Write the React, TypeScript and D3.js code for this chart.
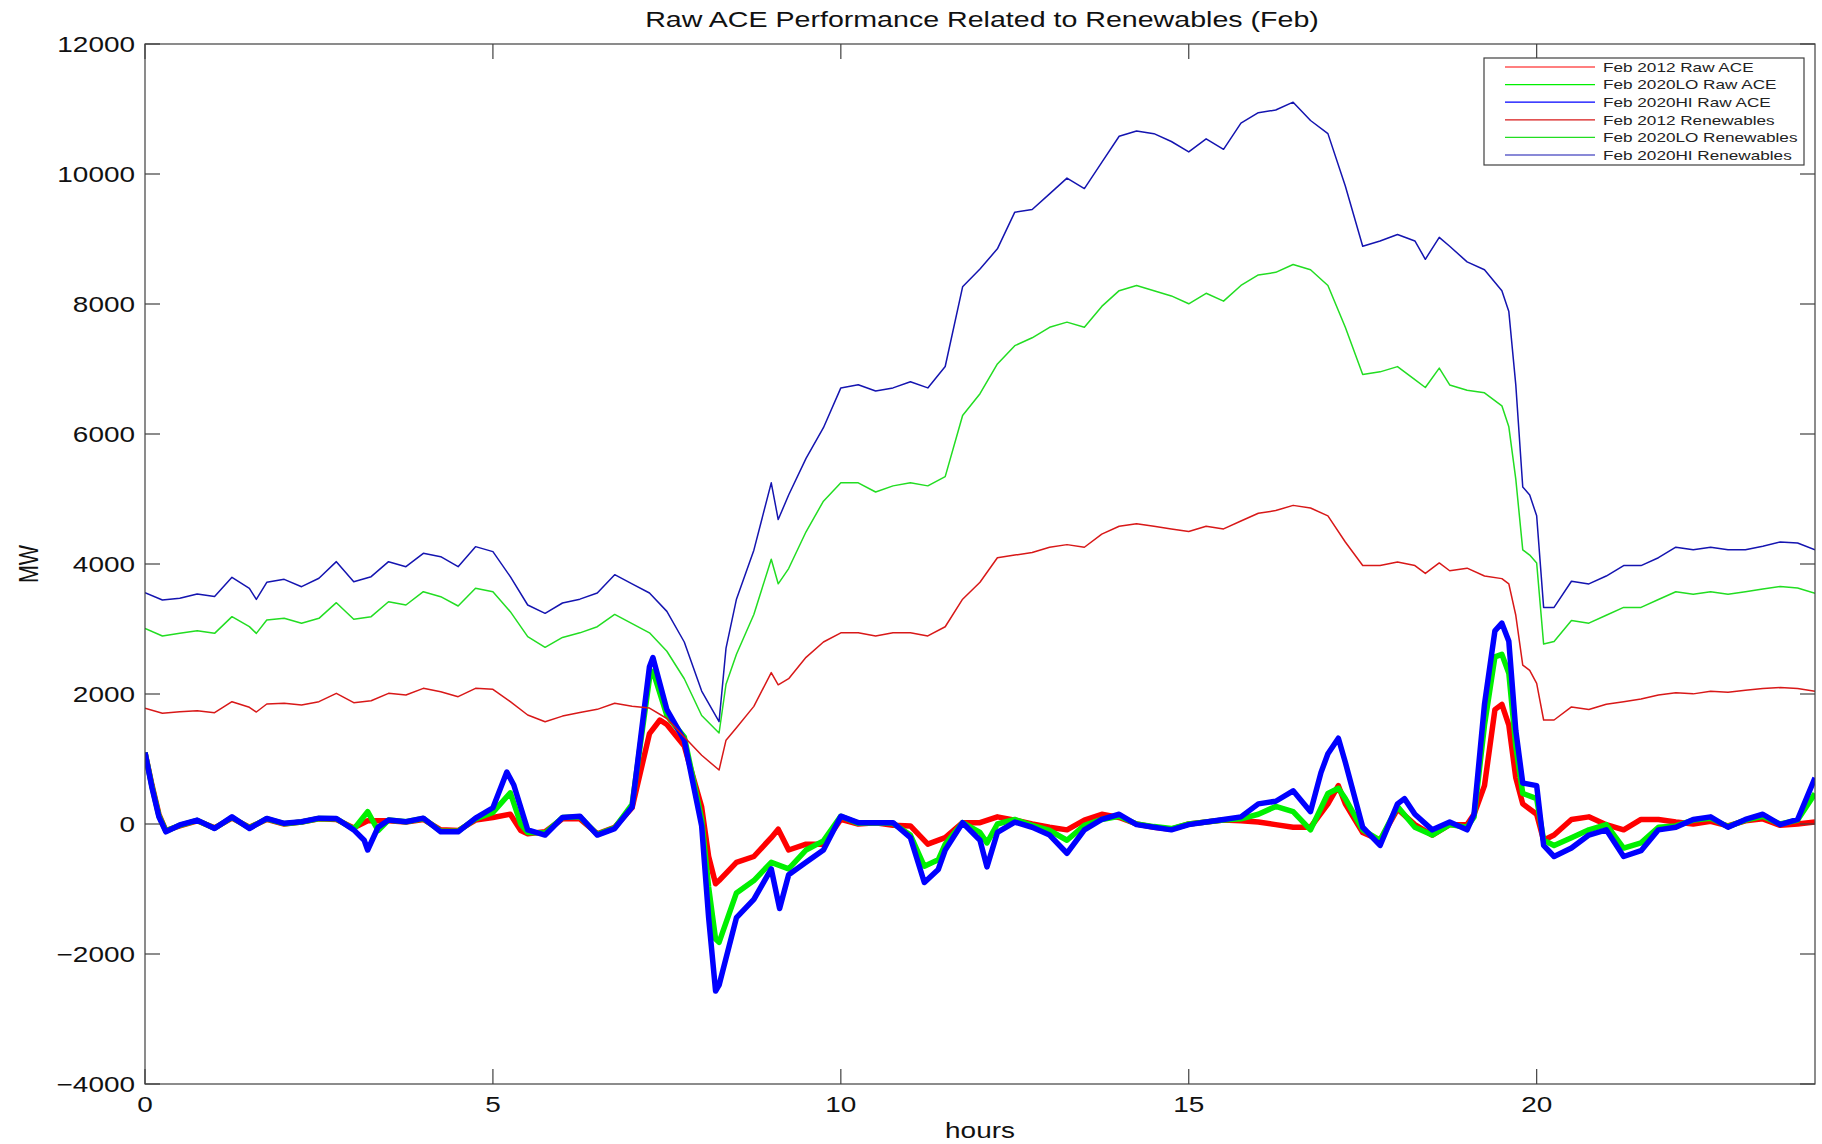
import React from 'react';
import * as d3 from 'd3';

// [hour, MW] pairs
const ace2012: [number, number][] = [
  [0, 1100], [0.1, 600], [0.2, 150], [0.3, -100], [0.5, -30], [0.75, 50], [1.0, -60], [1.25, 90], [1.5, -50],
  [1.75, 70], [2.0, 0], [2.25, 30], [2.5, 80], [2.75, 70], [3.0, -60], [3.2, 50], [3.5, 50], [3.75, 30],
  [4.0, 70], [4.25, -90], [4.5, -100], [4.75, 60], [5.0, 100], [5.25, 150], [5.4, -100], [5.5, -150],
  [5.75, -120], [6.0, 80], [6.25, 80], [6.5, -150], [6.75, -50], [7.0, 250], [7.25, 1390], [7.4, 1600],
  [7.5, 1530], [7.75, 1200], [8.0, 260], [8.1, -500], [8.2, -920], [8.25, -870], [8.5, -590], [8.75, -500],
  [9.0, -210], [9.1, -80], [9.25, -400], [9.5, -310], [9.75, -310], [10.0, 70], [10.25, 0], [10.5, 20],
  [10.75, -20], [11.0, -30], [11.25, -310], [11.5, -210], [11.75, 20], [12.0, 20], [12.25, 110], [12.5, 60],
  [12.75, 0], [13.0, -50], [13.25, -90], [13.5, 60], [13.75, 150], [14.0, 100], [14.25, 0], [14.5, -50],
  [14.75, -80], [15.0, 0], [15.25, 30], [15.5, 60], [15.75, 50], [16.0, 30], [16.25, -10], [16.5, -50],
  [16.75, -50], [17.0, 310], [17.15, 590], [17.25, 310], [17.5, -130], [17.75, -250], [18.0, 230],
  [18.25, -10], [18.5, -170], [18.75, -10], [19.0, -10], [19.1, 150], [19.25, 590], [19.4, 1760],
  [19.5, 1840], [19.6, 1520], [19.7, 710], [19.8, 310], [20.0, 150], [20.1, -250], [20.25, -170], [20.5, 70],
  [20.75, 110], [21.0, -10], [21.25, -90], [21.5, 70], [21.75, 70], [22.0, 30], [22.25, 0], [22.5, 40],
  [22.75, -30], [23.0, 50], [23.25, 80], [23.5, -20], [23.75, 0], [24.0, 30],
];

const ace2020lo: [number, number][] = [
  [0, 1100], [0.1, 580], [0.2, 130], [0.3, -110], [0.5, -20], [0.75, 55], [1.0, -65], [1.25, 100], [1.5, -60],
  [1.75, 80], [2.0, 5], [2.25, 30], [2.5, 85], [2.75, 80], [3.0, -80], [3.2, 190], [3.35, -100], [3.5, 60],
  [3.75, 35], [4.0, 85], [4.25, -110], [4.5, -110], [4.75, 80], [5.0, 180], [5.25, 480], [5.4, 0],
  [5.5, -130], [5.75, -140], [6.0, 100], [6.25, 110], [6.5, -160], [6.75, -60], [7.0, 300], [7.25, 2240],
  [7.3, 2350], [7.5, 1670], [7.75, 1340], [8.0, 70], [8.1, -970], [8.2, -1770], [8.25, -1820], [8.5, -1060],
  [8.75, -870], [9.0, -590], [9.25, -690], [9.5, -400], [9.75, -260], [10.0, 120], [10.25, 10], [10.5, 20],
  [10.75, 10], [11.0, -170], [11.2, -650], [11.4, -550], [11.5, -310], [11.75, 20], [12.0, -130],
  [12.1, -290], [12.25, 0], [12.5, 70], [12.75, -20], [13.0, -100], [13.25, -250], [13.5, -20], [13.75, 70],
  [14.0, 120], [14.25, 0], [14.5, -40], [14.75, -70], [15.0, 0], [15.25, 30], [15.5, 60], [15.75, 80],
  [16.0, 150], [16.25, 270], [16.5, 190], [16.75, -90], [17.0, 470], [17.15, 550], [17.25, 390], [17.5, -90],
  [17.75, -250], [18.0, 270], [18.25, -50], [18.5, -170], [18.75, -10], [19.0, -50], [19.1, 110],
  [19.25, 1520], [19.4, 2570], [19.5, 2610], [19.6, 2320], [19.7, 1200], [19.8, 470], [20.0, 390],
  [20.1, -250], [20.25, -330], [20.5, -210], [20.75, -90], [21.0, -10], [21.25, -370], [21.5, -290],
  [21.75, -50], [22.0, -30], [22.25, 60], [22.5, 90], [22.75, -40], [23.0, 60], [23.25, 120], [23.5, 0],
  [23.75, 60], [24.0, 470],
];

const ace2020hi: [number, number][] = [
  [0, 1100], [0.1, 560], [0.2, 110], [0.3, -120], [0.5, -15], [0.75, 60], [1.0, -70], [1.25, 110], [1.5, -70],
  [1.75, 85], [2.0, 10], [2.25, 35], [2.5, 90], [2.75, 85], [3.0, -90], [3.15, -250], [3.2, -400],
  [3.35, -50], [3.5, 60], [3.75, 35], [4.0, 90], [4.25, -120], [4.5, -120], [4.75, 90], [5.0, 250],
  [5.2, 800], [5.3, 600], [5.5, -90], [5.75, -170], [6.0, 100], [6.25, 120], [6.5, -170], [6.75, -70],
  [7.0, 260], [7.25, 2420], [7.3, 2560], [7.5, 1760], [7.75, 1290], [8.0, -30], [8.1, -1440], [8.2, -2570],
  [8.25, -2480], [8.5, -1440], [8.75, -1160], [9.0, -690], [9.12, -1300], [9.25, -780], [9.5, -590],
  [9.75, -400], [10.0, 120], [10.25, 20], [10.5, 20], [10.75, 20], [11.0, -210], [11.2, -900], [11.4, -700],
  [11.5, -400], [11.75, 20], [12.0, -250], [12.1, -660], [12.25, -130], [12.5, 30], [12.75, -50],
  [13.0, -170], [13.25, -450], [13.5, -90], [13.75, 70], [14.0, 150], [14.25, -10], [14.5, -50],
  [14.75, -90], [15.0, -10], [15.25, 30], [15.5, 70], [15.75, 110], [16.0, 310], [16.25, 350], [16.5, 510],
  [16.75, 190], [16.9, 790], [17.0, 1080], [17.15, 1320], [17.25, 950], [17.5, -50], [17.75, -330],
  [18.0, 310], [18.1, 390], [18.25, 150], [18.5, -90], [18.75, 30], [19.0, -90], [19.1, 150], [19.25, 1840],
  [19.4, 2970], [19.5, 3090], [19.6, 2810], [19.7, 1440], [19.8, 630], [20.0, 590], [20.1, -330],
  [20.25, -500], [20.5, -370], [20.75, -170], [21.0, -90], [21.25, -500], [21.5, -410], [21.75, -90],
  [22.0, -50], [22.25, 70], [22.5, 110], [22.75, -50], [23.0, 70], [23.25, 150], [23.5, -10], [23.75, 70],
  [24.0, 710],
];

const ren2012: [number, number][] = [
  [0, 1780], [0.25, 1703], [0.5, 1728], [0.75, 1744], [1.0, 1713], [1.25, 1882], [1.5, 1795], [1.6, 1723],
  [1.75, 1846], [2.0, 1856], [2.25, 1831], [2.5, 1882], [2.75, 2010], [3.0, 1867], [3.25, 1897], [3.5, 2010],
  [3.75, 1985], [4.0, 2087], [4.25, 2036], [4.5, 1959], [4.75, 2087], [5.0, 2072], [5.25, 1882], [5.5, 1677],
  [5.75, 1574], [6.0, 1660], [6.25, 1717], [6.5, 1764], [6.75, 1858], [7.0, 1811], [7.25, 1783], [7.5, 1623],
  [7.75, 1340], [8.0, 1058], [8.25, 830], [8.35, 1290], [8.5, 1480], [8.75, 1810], [9.0, 2329], [9.1, 2141],
  [9.25, 2235], [9.5, 2564], [9.75, 2800], [10.0, 2941], [10.25, 2941], [10.5, 2894], [10.75, 2941],
  [11.0, 2941], [11.25, 2894], [11.5, 3035], [11.75, 3459], [12.0, 3720], [12.25, 4097], [12.5, 4137],
  [12.75, 4177], [13.0, 4258], [13.25, 4298], [13.5, 4258], [13.75, 4459], [14.0, 4580], [14.25, 4620],
  [14.5, 4580], [14.75, 4540], [15.0, 4500], [15.25, 4580], [15.5, 4540], [15.75, 4661], [16.0, 4781],
  [16.25, 4822], [16.5, 4902], [16.75, 4862], [17.0, 4741], [17.25, 4338], [17.5, 3976], [17.75, 3976],
  [18.0, 4030], [18.25, 3976], [18.4, 3855], [18.6, 4016], [18.75, 3896], [19.0, 3936], [19.25, 3815],
  [19.5, 3775], [19.6, 3694], [19.7, 3211], [19.8, 2445], [19.9, 2365], [20.0, 2163], [20.1, 1600],
  [20.25, 1600], [20.5, 1801], [20.75, 1761], [21.0, 1842], [21.25, 1882], [21.5, 1922], [21.75, 1986],
  [22.0, 2018], [22.25, 2002], [22.5, 2043], [22.75, 2026], [23.0, 2059], [23.25, 2083], [23.5, 2099],
  [23.75, 2083], [24.0, 2043],
];

const ren2020lo: [number, number][] = [
  [0, 3010], [0.25, 2892], [0.5, 2933], [0.75, 2974], [1.0, 2933], [1.25, 3190], [1.5, 3036], [1.6, 2933],
  [1.75, 3139], [2.0, 3164], [2.25, 3087], [2.5, 3164], [2.75, 3405], [3.0, 3149], [3.25, 3190], [3.5, 3420],
  [3.75, 3369], [4.0, 3574], [4.25, 3497], [4.5, 3354], [4.75, 3626], [5.0, 3574], [5.25, 3267], [5.5, 2882],
  [5.75, 2718], [6.0, 2870], [6.25, 2941], [6.5, 3035], [6.75, 3224], [7.0, 3082], [7.25, 2941], [7.5, 2658],
  [7.75, 2235], [8.0, 1670], [8.25, 1400], [8.35, 2150], [8.5, 2611], [8.75, 3224], [9.0, 4072], [9.1, 3695],
  [9.25, 3930], [9.5, 4496], [9.75, 4967], [10.0, 5249], [10.25, 5249], [10.5, 5108], [10.75, 5202],
  [11.0, 5249], [11.25, 5202], [11.5, 5344], [11.75, 6285], [12.0, 6620], [12.25, 7077], [12.5, 7359],
  [12.75, 7480], [13.0, 7641], [13.25, 7721], [13.5, 7641], [13.75, 7963], [14.0, 8205], [14.25, 8285],
  [14.5, 8205], [14.75, 8124], [15.0, 8003], [15.25, 8165], [15.5, 8044], [15.75, 8285], [16.0, 8447],
  [16.25, 8487], [16.5, 8608], [16.75, 8527], [17.0, 8285], [17.25, 7641], [17.5, 6916], [17.75, 6956],
  [18.0, 7037], [18.25, 6836], [18.4, 6715], [18.6, 7013], [18.75, 6755], [19.0, 6674], [19.25, 6634],
  [19.5, 6433], [19.6, 6111], [19.7, 5305], [19.8, 4218], [19.9, 4137], [20.0, 4016], [20.1, 2768],
  [20.25, 2808], [20.5, 3130], [20.75, 3090], [21.0, 3211], [21.25, 3332], [21.5, 3332], [21.75, 3453],
  [22.0, 3573], [22.25, 3533], [22.5, 3573], [22.75, 3533], [23.0, 3573], [23.25, 3614], [23.5, 3654],
  [23.75, 3630], [24.0, 3549],
];

const ren2020hi: [number, number][] = [
  [0, 3559], [0.25, 3446], [0.5, 3472], [0.75, 3540], [1.0, 3500], [1.25, 3795], [1.5, 3625], [1.6, 3456],
  [1.75, 3718], [2.0, 3764], [2.25, 3651], [2.5, 3780], [2.75, 4036], [3.0, 3728], [3.25, 3805], [3.5, 4036],
  [3.75, 3959], [4.0, 4164], [4.25, 4113], [4.5, 3959], [4.75, 4267], [5.0, 4190], [5.25, 3805], [5.5, 3369],
  [5.75, 3241], [6.0, 3400], [6.25, 3459], [6.5, 3554], [6.75, 3836], [7.0, 3695], [7.25, 3554], [7.5, 3271],
  [7.75, 2800], [8.0, 2046], [8.25, 1575], [8.35, 2706], [8.5, 3459], [8.75, 4213], [9.0, 5249], [9.1, 4684],
  [9.25, 5061], [9.5, 5626], [9.75, 6097], [10.0, 6709], [10.25, 6757], [10.5, 6662], [10.75, 6709],
  [11.0, 6803], [11.25, 6709], [11.5, 7039], [11.75, 8264], [12.0, 8540], [12.25, 8849], [12.5, 9413],
  [12.75, 9453], [13.0, 9695], [13.25, 9937], [13.5, 9776], [13.75, 10178], [14.0, 10581], [14.25, 10662],
  [14.5, 10621], [14.75, 10500], [15.0, 10339], [15.25, 10541], [15.5, 10380], [15.75, 10782],
  [16.0, 10944], [16.25, 10984], [16.5, 11105], [16.75, 10823], [17.0, 10621], [17.25, 9816], [17.5, 8889],
  [17.75, 8970], [18.0, 9070], [18.25, 8970], [18.4, 8688], [18.6, 9026], [18.75, 8889], [19.0, 8648],
  [19.25, 8527], [19.5, 8205], [19.6, 7883], [19.7, 6755], [19.8, 5184], [19.9, 5063], [20.0, 4741],
  [20.1, 3332], [20.25, 3332], [20.5, 3734], [20.75, 3694], [21.0, 3815], [21.25, 3976], [21.5, 3976],
  [21.75, 4097], [22.0, 4258], [22.25, 4218], [22.5, 4258], [22.75, 4218], [23.0, 4218], [23.25, 4274],
  [23.5, 4339], [23.75, 4322], [24.0, 4218],
];

const xTicks = [0, 5, 10, 15, 20];
const yTicks = [-4000, -2000, 0, 2000, 4000, 6000, 8000, 10000, 12000];

const series = [
  { name: 'Feb 2012 Raw ACE', data: ace2012, color: '#ff0000', width: 5.5 },
  { name: 'Feb 2020LO Raw ACE', data: ace2020lo, color: '#00f000', width: 5.5 },
  { name: 'Feb 2020HI Raw ACE', data: ace2020hi, color: '#0000ff', width: 5.5 },
  { name: 'Feb 2012 Renewables', data: ren2012, color: '#d81818', width: 1.5 },
  { name: 'Feb 2020LO Renewables', data: ren2020lo, color: '#22dd22', width: 1.5 },
  { name: 'Feb 2020HI Renewables', data: ren2020hi, color: '#1414b0', width: 1.5 },
];

const W = 1822;
const H = 1144;
const margin = { top: 44, right: 7, bottom: 60, left: 145 };
const SX = 1.3; // the source picture is stretched sideways
const font = '"Liberation Sans", Arial, sans-serif';

export default function App() {
  const x = d3.scaleLinear().domain([0, 24]).range([margin.left, W - margin.right]);
  const y = d3.scaleLinear().domain([-4000, 12000]).range([H - margin.bottom, margin.top]);
  const line = d3.line<[number, number]>()
    .x(d => x(d[0]))
    .y(d => y(d[1]));

  const [x0, x1] = x.range();
  const [y0, y1] = [y(-4000), y(12000)];
  const tickLen = 15;
  const axisColor = '#404040';

  return (
    <svg width={W} height={H} style={{ position: 'absolute', left: 0, top: 0, background: '#fff' }}>
      <defs>
        <clipPath id="plot">
          <rect x={x0} y={y1} width={x1 - x0} height={y0 - y1} />
        </clipPath>
      </defs>

      <g clipPath="url(#plot)">
        {series.map(s => (
          <path key={s.name} d={line(s.data) || ''} fill="none" stroke={s.color}
            strokeWidth={s.width} strokeLinejoin="round" />
        ))}
      </g>

      {/* box + inward ticks on all sides */}
      <rect x={x0} y={y1} width={x1 - x0} height={y0 - y1} fill="none" stroke={axisColor} strokeWidth={1.2} />
      {xTicks.map(t => (
        <g key={'xt' + t} stroke={axisColor} strokeWidth={1.2}>
          <line x1={x(t)} x2={x(t)} y1={y0} y2={y0 - tickLen} />
          <line x1={x(t)} x2={x(t)} y1={y1} y2={y1 + tickLen} />
        </g>
      ))}
      {yTicks.map(t => (
        <g key={'yt' + t} stroke={axisColor} strokeWidth={1.2}>
          <line x1={x0} x2={x0 + tickLen} y1={y(t)} y2={y(t)} />
          <line x1={x1} x2={x1 - tickLen} y1={y(t)} y2={y(t)} />
        </g>
      ))}

      <g fontFamily={font} fill="#111" fontSize={21.5}>
        {xTicks.map(t => (
          <text key={'xl' + t} transform={`translate(${x(t)},${y0 + 28}) scale(${SX},1)`} textAnchor="middle">
            {t}
          </text>
        ))}
        {yTicks.map(t => (
          <text key={'yl' + t} transform={`translate(${x0 - 10},${y(t)}) scale(${SX},1)`} textAnchor="end" dy="0.36em">
            {t < 0 ? '\u2212' + Math.abs(t) : t}
          </text>
        ))}
        <text transform={`translate(${(x0 + x1) / 2},${1138}) scale(${SX},1)`} textAnchor="middle">hours</text>
        <text transform={`translate(38,${(y0 + y1) / 2}) scale(${SX},1) rotate(-90)`} textAnchor="middle">MW</text>
        <text transform={`translate(${(x0 + x1) / 2 + 2},27) scale(${SX},1)`} textAnchor="middle" fontSize={22}>
          Raw ACE Performance Related to Renewables (Feb)
        </text>
      </g>

      {/* legend */}
      <g>
        <rect x={1484} y={58} width={320} height={107} fill="#fff" stroke={axisColor} strokeWidth={1.2} />
        {series.map((s, i) => {
          const ly = 67 + i * 17.6;
          return (
            <g key={'lg' + s.name}>
              <line x1={1505} x2={1595} y1={ly} y2={ly} stroke={s.color} strokeWidth={1.2} />
              <text transform={`translate(1603,${ly}) scale(${SX},1)`} dy="0.36em" fontFamily={font}
                fontSize={13.2} fill="#222">
                {s.name}
              </text>
            </g>
          );
        })}
      </g>
    </svg>
  );
}
